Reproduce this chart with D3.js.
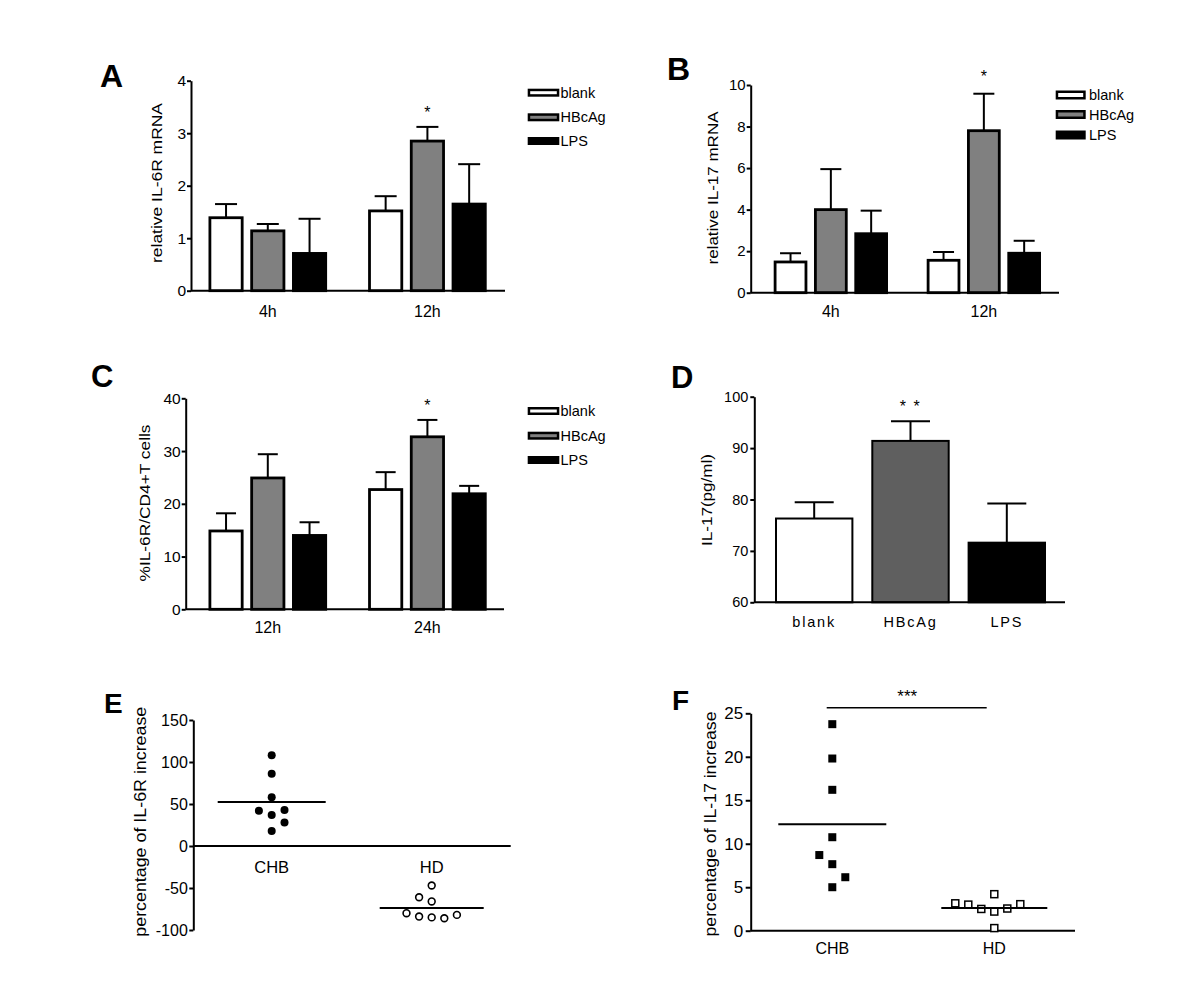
<!DOCTYPE html>
<html><head><meta charset="utf-8">
<script src="https://cdn.jsdelivr.net/npm/d3@7"></script>
<style>
html,body{margin:0;padding:0;background:#fff;}
svg{display:block;font-family:"Liberation Sans",Arial,sans-serif;}
</style></head><body>
<svg id="chart" width="1200" height="1005"></svg>
<script>
// ================= DATA =================
const seriesNames = ["blank", "HBcAg", "LPS"];

// Panel A: relative IL-6R mRNA
const groupsA = ["4h", "12h"];
const meanA  = [[1.39, 1.14, 0.71], [1.52, 2.85, 1.65]];
const upperA = [[1.65, 1.27, 1.37], [1.80, 3.12, 2.41]];
const ticksA = [0, 1, 2, 3, 4];
const sigA   = [["", "", ""], ["", "*", ""]];

// Panel B: relative IL-17 mRNA
const groupsB = ["4h", "12h"];
const meanB  = [[1.48, 4.0, 2.84], [1.56, 7.8, 1.9]];
const upperB = [[1.9, 5.95, 3.95], [1.96, 9.58, 2.5]];
const ticksB = [0, 2, 4, 6, 8, 10];
const sigB   = [["", "", ""], ["", "*", ""]];

// Panel C: %IL-6R/CD4+T cells
const groupsC = ["12h", "24h"];
const meanC  = [[14.85, 24.9, 14.0], [22.7, 32.7, 21.9]];
const upperC = [[18.2, 29.4, 16.5], [26.0, 35.9, 23.4]];
const ticksC = [0, 10, 20, 30, 40];
const sigC   = [["", "", ""], ["", "*", ""]];

// Panel D: IL-17 (pg/ml)
const categoriesD = ["blank", "HBcAg", "LPS"];
const meanD  = [76.3, 91.4, 71.6];
const upperD = [79.45, 95.2, 79.2];
const ticksD = [60, 70, 80, 90, 100];
const sigD   = ["", "* *", ""];

// Panels E / F: scatter
const groupsEF = ["CHB", "HD"];
const chbE = [37, 42, 43, 28, 18, 58, 86, 108];
const hdE  = [-85, -84, -86, -80, -82, -66, -61, -47];
const ticksE = [-100, -50, 0, 50, 100, 150];

const chbF = [10.75, 7.65, 8.7, 6.15, 5.0, 16.2, 19.8, 23.75];
const hdF  = [2.2, 2.5, 2.55, 3.0, 3.05, 3.15, 4.2, 0.3];
const ticksF = [0, 5, 10, 15, 20, 25];
const sigF = "***";

// ================= DRAWING =================
const FONT = '"Liberation Sans", Arial, sans-serif';
const svg = d3.select("#chart");
svg.append("rect").attr("width", 1200).attr("height", 1005).attr("fill", "#fff");
const fillsABC = {blank: "#ffffff", HBcAg: "#808080", LPS: "#000000"};
const fillsD = {blank: "#ffffff", HBcAg: "#5f5f5f", LPS: "#000000"};

function yAxis(x, y, ticks, fs, tickSize, pad) {
  const g = svg.append("g").attr("transform", `translate(${x},0)`);
  g.call(d3.axisLeft(y).tickValues(ticks).tickSize(tickSize).tickPadding(pad)
    .tickSizeOuter(0).tickFormat(d => String(d)));
  g.select(".domain").attr("stroke", "#000").attr("stroke-width", 2);
  g.selectAll(".tick line").attr("stroke", "#000").attr("stroke-width", 2);
  g.selectAll(".tick text").attr("font-size", fs).attr("font-family", FONT).attr("fill", "#000");
  return g;
}

function yLabel(text, cx, cy, fs, len) {
  svg.append("text")
    .attr("transform", `translate(${cx},${cy}) rotate(-90)`)
    .attr("text-anchor", "middle").attr("dy", "0.35em")
    .attr("font-size", fs).attr("font-family", FONT)
    .attr("textLength", len).attr("lengthAdjust", "spacingAndGlyphs")
    .text(text);
}

function panelLetter(t, x, y, fs) {
  svg.append("text").attr("x", x).attr("y", y).attr("font-size", fs)
    .attr("font-weight", "bold").attr("font-family", FONT).text(t);
}

function hLine(x1, x2, y, sw) {
  svg.append("line").attr("x1", x1).attr("x2", x2).attr("y1", y).attr("y2", y)
    .attr("stroke", "#000").attr("stroke-width", sw);
}

function groupedPanel(p) {
  const y = d3.scaleLinear().domain(p.yDomain).range(p.yRange);
  const x0 = d3.scaleBand().domain(p.groups).range(p.bandRange).paddingInner(p.padGroup).paddingOuter(0);
  const x1 = d3.scaleBand().domain(seriesNames).range([0, x0.bandwidth()]).paddingInner(p.padBar);
  const recs = [];
  p.groups.forEach((grp, gi) => seriesNames.forEach((s, si) => recs.push({
    grp, s, mean: p.mean[gi][si], upper: p.upper[gi][si], sig: p.sig[gi][si]
  })));
  const g = svg.append("g");
  const bw = x1.bandwidth();
  const cx = d => x0(d.grp) + x1(d.s) + bw / 2;
  g.selectAll("line.err").data(recs).join("line")
    .attr("x1", cx).attr("x2", cx).attr("y1", d => y(d.mean)).attr("y2", d => y(d.upper))
    .attr("stroke", "#000").attr("stroke-width", 2);
  g.selectAll("line.cap").data(recs).join("line")
    .attr("x1", d => cx(d) - p.capW / 2).attr("x2", d => cx(d) + p.capW / 2)
    .attr("y1", d => y(d.upper)).attr("y2", d => y(d.upper))
    .attr("stroke", "#000").attr("stroke-width", 2);
  g.selectAll("rect.bar").data(recs).join("rect")
    .attr("x", d => x0(d.grp) + x1(d.s) + p.sw / 2)
    .attr("width", bw - p.sw)
    .attr("y", d => y(d.mean))
    .attr("height", d => y(p.yDomain[0]) - y(d.mean))
    .attr("fill", d => fillsABC[d.s]).attr("stroke", "#000").attr("stroke-width", p.sw);
  g.selectAll("text.sig").data(recs.filter(d => d.sig)).join("text")
    .attr("x", cx).attr("y", p.sigY).attr("text-anchor", "middle")
    .attr("font-size", 16).attr("font-family", FONT).text(d => d.sig);
  yAxis(p.axisX, y, p.ticks, p.tickFs, 4, 1);
  hLine(p.axisX, p.xEnd, y(p.yDomain[0]), 2);
  g.selectAll("text.grp").data(p.groups).join("text")
    .attr("x", d => x0(d) + x0.bandwidth() / 2).attr("y", p.groupLabelY)
    .attr("text-anchor", "middle").attr("font-size", 16).attr("font-family", FONT)
    .text(d => d);
  const lg = svg.append("g");
  seriesNames.forEach((s, i) => {
    const ry = p.legendY[i];
    lg.append("rect").attr("x", p.legendX + 1.25).attr("y", ry - p.legendH / 2 + 1.25)
      .attr("width", p.legendW - 2.5).attr("height", p.legendH - 2.5)
      .attr("fill", fillsABC[s]).attr("stroke", "#000").attr("stroke-width", 2.5);
    lg.append("text").attr("x", p.legendTextX).attr("y", ry + 5)
      .attr("font-size", 14.5).attr("font-family", FONT).text(s);
  });
  yLabel(p.label, p.labelX, p.labelY, 14, p.labelLen);
}

groupedPanel({
  groups: groupsA, mean: meanA, upper: upperA, sig: sigA, ticks: ticksA,
  yDomain: [0, 4], yRange: [290.7, 80.7], axisX: 191, xEnd: 505,
  bandRange: [208.5, 486.7], padGroup: 0.257, padBar: 0.16, sw: 2.8, capW: 22,
  sigY: 117.5, tickFs: 15.5, groupLabelY: 316.5,
  legendX: 527.7, legendW: 31.6, legendH: 8, legendY: [92.7, 117.3, 141], legendTextX: 560.5,
  label: "relative IL-6R mRNA", labelX: 157.5, labelY: 183, labelLen: 160
});
panelLetter("A", 100, 87, 32);

groupedPanel({
  groups: groupsB, mean: meanB, upper: upperB, sig: sigB, ticks: ticksB,
  yDomain: [0, 10], yRange: [292.7, 85], axisX: 750.7, xEnd: 1059,
  bandRange: [773.7, 1041], padGroup: 0.253, padBar: 0.165, sw: 2.8, capW: 21,
  sigY: 82, tickFs: 15, groupLabelY: 316.5,
  legendX: 1055.7, legendW: 30, legendH: 9, legendY: [95, 114.5, 135], legendTextX: 1089,
  label: "relative IL-17 mRNA", labelX: 713, labelY: 188, labelLen: 153
});
panelLetter("B", 667, 80, 32);

groupedPanel({
  groups: groupsC, mean: meanC, upper: upperC, sig: sigC, ticks: ticksC,
  yDomain: [0, 40], yRange: [609.3, 398.3], axisX: 185.7, xEnd: 504,
  bandRange: [208.5, 486.7], padGroup: 0.257, padBar: 0.16, sw: 2.8, capW: 20,
  sigY: 411, tickFs: 15.5, groupLabelY: 633,
  legendX: 527.7, legendW: 31.6, legendH: 8, legendY: [411, 435.7, 460], legendTextX: 560.5,
  label: "%IL-6R/CD4+T cells", labelX: 145.5, labelY: 503, labelLen: 157
});
panelLetter("C", 91, 386.5, 31);

(function () {
  const y = d3.scaleLinear().domain([60, 100]).range([602.3, 396.7]);
  const x = d3.scaleBand().domain(categoriesD).range([775, 1046]).paddingInner(0.186).paddingOuter(0);
  const recs = categoriesD.map((c, i) => ({c, mean: meanD[i], upper: upperD[i], sig: sigD[i]}));
  const g = svg.append("g");
  const sw = 2;
  const cx = d => x(d.c) + x.bandwidth() / 2;
  g.selectAll("line.err").data(recs).join("line")
    .attr("x1", cx).attr("x2", cx).attr("y1", d => y(d.mean)).attr("y2", d => y(d.upper))
    .attr("stroke", "#000").attr("stroke-width", 2);
  g.selectAll("line.cap").data(recs).join("line")
    .attr("x1", d => cx(d) - 19.5).attr("x2", d => cx(d) + 19.5)
    .attr("y1", d => y(d.upper)).attr("y2", d => y(d.upper))
    .attr("stroke", "#000").attr("stroke-width", 2);
  g.selectAll("rect.bar").data(recs).join("rect")
    .attr("x", d => x(d.c) + sw / 2).attr("width", x.bandwidth() - sw)
    .attr("y", d => y(d.mean)).attr("height", d => y(60) - y(d.mean))
    .attr("fill", d => fillsD[d.c]).attr("stroke", "#000").attr("stroke-width", sw);
  g.selectAll("text.sig").data(recs.filter(d => d.sig)).join("text")
    .attr("x", cx).attr("y", 412).attr("text-anchor", "middle")
    .attr("font-size", 16).attr("letter-spacing", 1.5).attr("font-family", FONT).text(d => d.sig);
  yAxis(754.3, y, ticksD, 14.5, 4, 2);
  hLine(754.3, 1065, y(60), 2);
  g.selectAll("text.cat").data(categoriesD).join("text")
    .attr("x", d => x(d) + x.bandwidth() / 2).attr("y", 626.5)
    .attr("text-anchor", "middle").attr("font-size", 14.5).attr("letter-spacing", 1.8)
    .attr("font-family", FONT).text(d => d);
  yLabel("IL-17(pg/ml)", 706.7, 500, 14, 92);
  panelLetter("D", 671, 388, 31);
})();

function swarm(values, y, cx, step, minDy) {
  const placed = [];
  let pref = -1;
  return values.map(v => {
    const py = y(v);
    const free = s => placed.every(p => p.slot !== s || Math.abs(p.py - py) >= minDy);
    let slot = 0;
    if (!free(0)) {
      for (let k = 1; k < 12; k++) {
        if (free(pref * k)) { slot = pref * k; break; }
        if (free(-pref * k)) { slot = -pref * k; break; }
      }
      pref = -pref;
    }
    placed.push({slot, py});
    return {v, x: cx + slot * step, y: py};
  });
}

(function () {
  const y = d3.scaleLinear().domain([-100, 150]).range([930, 720]);
  const x = d3.scalePoint().domain(groupsEF).range([271.7, 431.7]);
  yAxis(193.3, y, ticksE, 16, 4, 1.5);
  hLine(193.3, 510.7, y(0), 2);
  const g = svg.append("g");
  const ptsC = swarm(chbE, y, x("CHB"), 12.8, 12);
  const ptsH = swarm(hdE, y, x("HD"), 12.6, 12);
  g.selectAll("circle.c").data(ptsC).join("circle")
    .attr("cx", d => d.x).attr("cy", d => d.y).attr("r", 4).attr("fill", "#000");
  g.selectAll("circle.h").data(ptsH).join("circle")
    .attr("cx", d => d.x).attr("cy", d => d.y).attr("r", 3.4)
    .attr("fill", "#fff").attr("stroke", "#000").attr("stroke-width", 1.6);
  hLine(x("CHB") - 54, x("CHB") + 54, y(d3.mean(chbE)), 2);
  hLine(x("HD") - 52, x("HD") + 52, y(d3.mean(hdE)), 2);
  g.selectAll("text.grp").data(groupsEF).join("text")
    .attr("x", d => x(d)).attr("y", 873).attr("text-anchor", "middle")
    .attr("font-size", 16.5).attr("font-family", FONT).text(d => d);
  yLabel("percentage of IL-6R increase", 140, 821.7, 17, 230);
  panelLetter("E", 104, 713.3, 28);
})();

(function () {
  const y = d3.scaleLinear().domain([0, 25]).range([930.7, 713.3]);
  const x = d3.scalePoint().domain(groupsEF).range([832.3, 994.3]);
  yAxis(750.7, y, ticksF, 17, 5, 2.5);
  hLine(750.7, 1075, y(0), 2);
  const g = svg.append("g");
  const ptsC = swarm(chbF, y, x("CHB"), 13, 14);
  const ptsH = swarm(hdF, y, x("HD"), 13, 14);
  g.selectAll("rect.c").data(ptsC).join("rect")
    .attr("x", d => d.x - 4).attr("y", d => d.y - 4).attr("width", 8).attr("height", 8).attr("fill", "#000");
  g.selectAll("rect.h").data(ptsH).join("rect")
    .attr("x", d => d.x - 3.5).attr("y", d => d.y - 3.5).attr("width", 7).attr("height", 7)
    .attr("fill", "#fff").attr("stroke", "#000").attr("stroke-width", 1.5);
  hLine(x("CHB") - 54, x("CHB") + 54, y(d3.mean(chbF)), 2);
  hLine(x("HD") - 53, x("HD") + 53, y(d3.mean(hdF)), 2);
  hLine(x("CHB") - 5.6, x("HD") - 7.6, 707.7, 1.6);
  svg.append("text").attr("x", (x("CHB") + x("HD")) / 2 - 6).attr("y", 702)
    .attr("text-anchor", "middle").attr("font-size", 17).attr("font-family", FONT).text(sigF);
  g.selectAll("text.grp").data(groupsEF).join("text")
    .attr("x", d => x(d)).attr("y", 953.5).attr("text-anchor", "middle")
    .attr("font-size", 16).attr("font-family", FONT).text(d => d);
  yLabel("percentage of IL-17 increase", 710, 824, 17, 225);
  panelLetter("F", 672, 710, 28);
})();
</script>
</body></html>
